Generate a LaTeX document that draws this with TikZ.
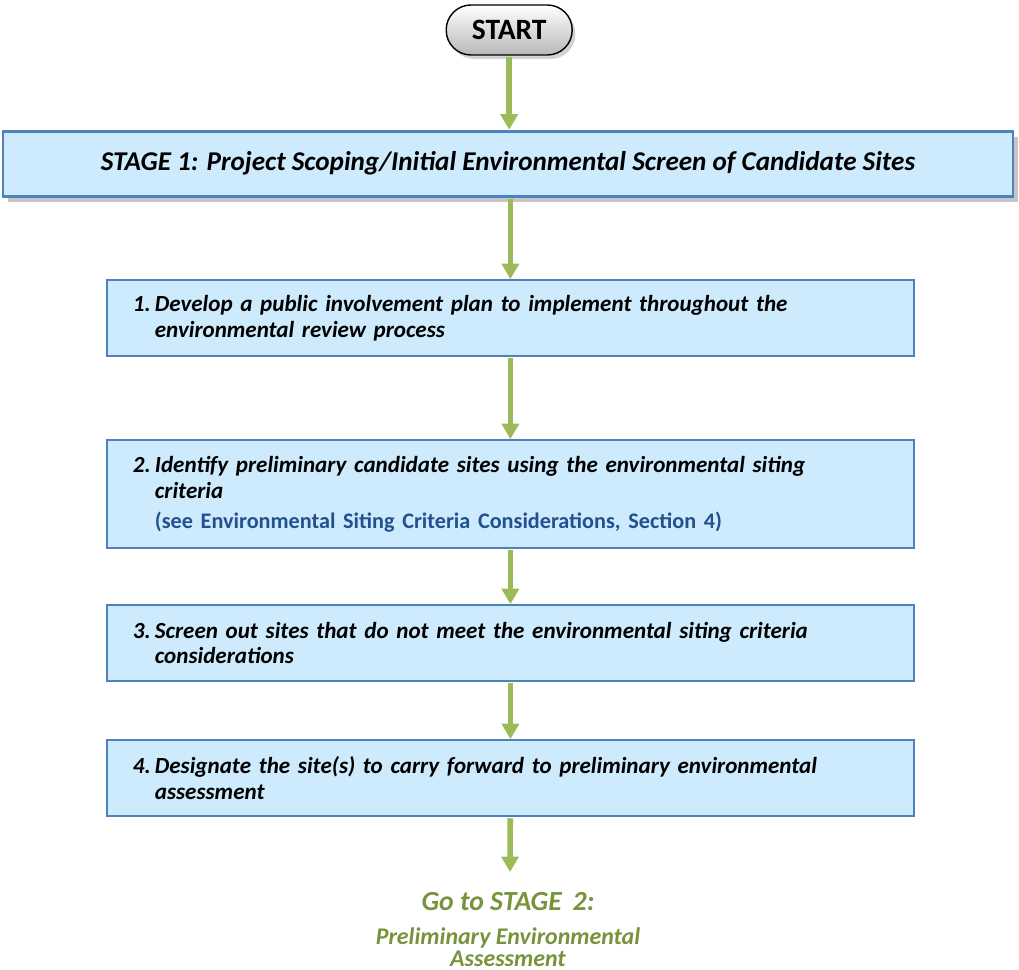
\documentclass[tikz,border=0pt]{standalone}
\usepackage{fontspec}
\setmainfont{Carlito}
\usepackage{tikz}
\usetikzlibrary{arrows.meta,shadows,positioning}
\definecolor{boxfill}{HTML}{CDEBFC}
\definecolor{boxline}{HTML}{4F81BD}
\definecolor{arrowgreen}{HTML}{9BBB59}
\definecolor{textgreen}{HTML}{77933C}
\definecolor{noteblue}{HTML}{23508F}
\tikzset{
	flow/.style={line width=4pt, color=arrowgreen, -{Triangle[width=12pt,length=11pt]}, shorten <=1pt},
	stepbox/.style={draw=boxline, line width=1.2pt, fill=boxfill, minimum width=20.175cm,
		text width=18.875cm, inner xsep=0.65cm, align=left, font=\fontsize{16.4}{18.4}\selectfont\bfseries\itshape}
}
\def\hang{\hspace*{0.55cm}}
\def\num#1{\makebox[0.55cm][l]{#1}}

\begin{document}
\begin{tikzpicture}
		%%%%% START %%%%%
		\useasboundingbox (0, 0) rectangle (25.475, -24.25);
		
		\node[draw, line width=1pt, rounded corners=0.62cm, minimum width=3.15cm, minimum height=1.25cm,
			top color=white, bottom color=black!28, drop shadow={shadow xshift=0.08cm, shadow yshift=-0.1cm, opacity=0.35},
			font=\fontsize{21}{24}\selectfont\bfseries] (start) at (12.73, -0.75) {START};
		
		\node[draw=boxline, line width=2pt, fill=boxfill, minimum width=25.25cm, minimum height=1.625cm,
			drop shadow={shadow xshift=0.12cm, shadow yshift=-0.15cm, opacity=0.45},
			font=\fontsize{19.3}{22}\selectfont\bfseries\itshape] (stage) at (12.7, -4.09)
			{STAGE 1: Project Scoping/Initial Environmental Screen of Candidate Sites};
		
		\node[stepbox, minimum height=1.9cm] (plan) at (12.76, -7.95)
			{\num{1.}Develop a public involvement plan to implement throughout the\\ \hang environmental review process};
		
		\node[stepbox, minimum height=2.7cm] (identify) at (12.76, -12.35)
			{\num{2.}Identify preliminary candidate sites using the environmental siting\\ \hang criteria\\[3pt]
			\hang{\upshape\fontsize{15.8}{18.4}\selectfont\color{noteblue}(see Environmental Siting Criteria Considerations, Section 4)}};
		
		\node[stepbox, minimum height=1.9cm] (screen) at (12.76, -16.075)
			{\num{3.}Screen out sites that do not meet the environmental siting criteria\\ \hang considerations};
		
		\node[stepbox, minimum height=1.9cm] (designate) at (12.76, -19.45)
			{\num{4.}Designate the site(s) to carry forward to preliminary environmental\\ \hang assessment};
		
		\node[color=textgreen, font=\fontsize{19.7}{22}\selectfont\bfseries\itshape] (goto) at (12.7, -22.55) {Go to STAGE\, 2:};
		\node[color=textgreen, align=center, font=\fontsize{17}{15.6}\selectfont\bfseries\itshape, below=4.5pt of goto] (prelim)
			{Preliminary Environmental\\ Assessment};
		\coordinate (gotop) at (12.75, -21.8);
		
		\draw[flow] (start) -- (start |- stage.north);
		\draw[flow] (stage.south -| plan.north) -- (plan);
		\draw[flow] (plan) -- (identify);
		\draw[flow] (identify) -- (screen);
		\draw[flow] (screen) -- (designate);
		\draw[flow] (designate) -- (gotop);
		
		%%%%% END %%%%%
	\end{tikzpicture}
\end{document}
